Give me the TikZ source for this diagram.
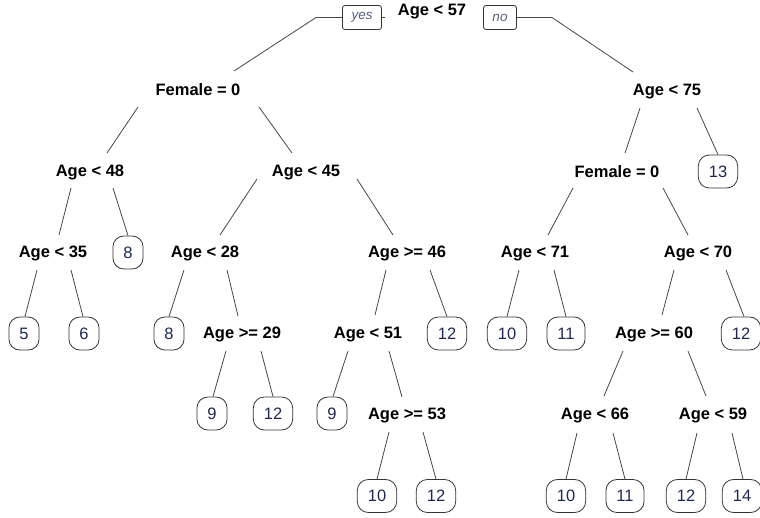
\documentclass[tikz,border=0pt]{standalone}
\usepackage{fontspec}
\setmainfont{Liberation Sans}
\usepackage{xcolor}
\usepackage{tikz}
\usetikzlibrary{positioning}
\definecolor{leaf_text}{RGB}{30,40,85}
\definecolor{branch_gray}{RGB}{70,70,70}
\tikzset{tree_plot/.style={x=1pt,y=-1pt,line width=0.8pt}}
\tikzset{tree_split/.style={inner sep=0pt, text height=11.8pt, text depth=0pt, font=\fontsize{16.5}{18}\selectfont\bfseries}}
\tikzset{tree_leaf/.style={draw=black!80, rounded corners=11pt, minimum height=33pt, inner xsep=10.5pt, inner ysep=0pt, text height=11.8pt, text depth=0pt, text=leaf_text, font=\fontsize{16.5}{18}\selectfont}}
\tikzset{tree_answer/.style={draw=black!80, rounded corners=2.5pt, minimum height=24pt, inner xsep=9pt, inner ysep=0pt, text=leaf_text!75, font=\fontsize{13.5}{15}\selectfont\itshape}}
\tikzset{tree_branch/.style={draw=branch_gray}}

\begin{document}
\begin{tikzpicture}[tree_plot]
    \useasboundingbox (0,0) rectangle (760,518);
    %\draw[help lines, step=20] (0,0) grid (760,518);

    % splits
    \node[tree_split] (root) at (432,10)  {Age < 57};
    \node[tree_split] (f0)   at (198,90)  {Female = 0};
    \node[tree_split] (a75)  at (667,90)  {Age < 75};
    \node[tree_split] (a48)  at (90,171)  {Age < 48};
    \node[tree_split] (a45)  at (306,171) {Age < 45};
    \node[tree_split] (f0b)  at (617,172) {Female = 0};
    \node[tree_split] (a35)  at (53,252)  {Age < 35};
    \node[tree_split] (a28)  at (205,252) {Age < 28};
    \node[tree_split] (a46)  at (407,252) {Age >= 46};
    \node[tree_split] (a71)  at (535,252) {Age < 71};
    \node[tree_split] (a70)  at (698,252) {Age < 70};
    \node[tree_split] (a29)  at (242,333) {Age >= 29};
    \node[tree_split] (a51)  at (368,333) {Age < 51};
    \node[tree_split] (a60)  at (654,333) {Age >= 60};
    \node[tree_split] (a53)  at (407,414) {Age >= 53};
    \node[tree_split] (a66)  at (595,414) {Age < 66};
    \node[tree_split] (a59)  at (713,414) {Age < 59};

    % leaves
    \node[tree_leaf] (l13)  at (718,171.5) {13};
    \node[tree_leaf] (l8a)  at (128,252.5) {8};
    \node[tree_leaf] (l5)   at (24,333.5)  {5};
    \node[tree_leaf] (l6)   at (84,333.5)  {6};
    \node[tree_leaf] (l8b)  at (169,333.5) {8};
    \node[tree_leaf] (l12a) at (447,333.5) {12};
    \node[tree_leaf] (l10a) at (507,333.5) {10};
    \node[tree_leaf] (l11a) at (566,333.5) {11};
    \node[tree_leaf] (l12b) at (741,333.5) {12};
    \node[tree_leaf] (l9a)  at (212,413.5) {9};
    \node[tree_leaf] (l12c) at (273,413.5) {12};
    \node[tree_leaf] (l9b)  at (332,413.5) {9};
    \node[tree_leaf] (l10b) at (377,496)   {10};
    \node[tree_leaf] (l12d) at (436,496)   {12};
    \node[tree_leaf] (l10c) at (566,496)   {10};
    \node[tree_leaf] (l11b) at (625,496)   {11};
    \node[tree_leaf] (l12e) at (686,496)   {12};
    \node[tree_leaf] (l14)  at (742,496)   {14};

    % yes / no
    \node[tree_answer] (yes) at (362,17.5) {yes};
    \node[tree_answer] (no)  at (500,17.5) {no};
    \coordinate (yes_knee) at (316,17.5);
    \coordinate (no_knee)  at (552,17.5);

    \draw[tree_branch] (yes.east) -- +(3.5,0);
    \draw[tree_branch] (yes.west) -- (yes_knee) -- ([shift={(36,-19)}]f0.center);
    \draw[tree_branch] (no.east) -- (no_knee) -- ([shift={(-34,-18)}]a75.center);

    \path[tree_branch]
        ([shift={(-60,17)}]f0.center)  edge ([shift={(17,-18)}]a48.center)
        ([shift={(61,17)}]f0.center)   edge ([shift={(-14,-18)}]a45.center)
        ([shift={(-27,18)}]a75.center) edge ([shift={(8,-19)}]f0b.center)
        ([shift={(30,18)}]a75.center)  edge (l13.north)
        ([shift={(-19,17)}]a48.center) edge ([shift={(6,-17)}]a35.center)
        ([shift={(23,17)}]a48.center)  edge (l8a.north)
        ([shift={(-49,8)}]a45.center)  edge ([shift={(15,-17)}]a28.center)
        ([shift={(51,8)}]a45.center)   edge ([shift={(-14,-17)}]a46.center)
        ([shift={(-44,16)}]f0b.center) edge ([shift={(13,-17)}]a71.center)
        ([shift={(46,16)}]f0b.center)  edge ([shift={(-10,-17)}]a70.center)
        ([shift={(-16,18)}]a35.center) edge ([xshift=1pt]l5.north)
        ([shift={(18,18)}]a35.center)  edge ([xshift=-1pt]l6.north)
        ([shift={(-21,18)}]a28.center) edge (l8b.north)
        ([shift={(22,18)}]a28.center)  edge ([shift={(-4,-17)}]a29.center)
        ([shift={(-21,18)}]a46.center) edge ([shift={(7,-18)}]a51.center)
        ([shift={(23,18)}]a46.center)  edge (l12a.north)
        ([shift={(-16,18)}]a71.center) edge (l10a.north)
        ([shift={(19,18)}]a71.center)  edge (l11a.north)
        ([shift={(-24,18)}]a70.center) edge ([shift={(8,-18)}]a60.center)
        ([shift={(28,18)}]a70.center)  edge ([xshift=3pt]l12b.north)
        ([shift={(-16,18)}]a29.center) edge ([xshift=1pt]l9a.north)
        ([shift={(19,18)}]a29.center)  edge (l12c.north)
        ([shift={(-20,18)}]a51.center) edge ([xshift=1pt]l9b.north)
        ([shift={(21,18)}]a51.center)  edge ([shift={(-5,-17)}]a53.center)
        ([shift={(-31,18)}]a60.center) edge ([shift={(9,-18)}]a66.center)
        ([shift={(34,18)}]a60.center)  edge ([shift={(-7,-18)}]a59.center)
        ([shift={(-18,18)}]a53.center) edge (l10b.north)
        ([shift={(16,18)}]a53.center)  edge (l12d.north)
        ([shift={(-18,19)}]a66.center) edge (l10c.north)
        ([shift={(18,19)}]a66.center)  edge (l11b.north)
        ([shift={(-16,19)}]a59.center) edge (l12e.north)
        ([shift={(19,19)}]a59.center)  edge ([xshift=1pt]l14.north)
    ;
\end{tikzpicture}
\end{document}
